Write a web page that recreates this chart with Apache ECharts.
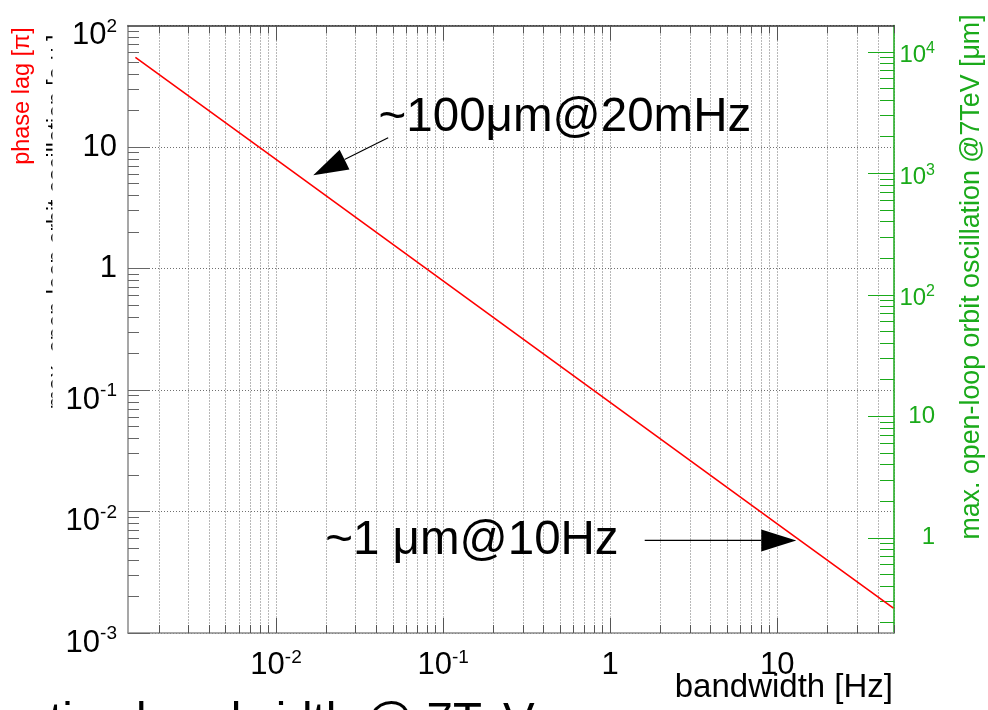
<!DOCTYPE html>
<html><head><meta charset="utf-8">
<script src="https://cdn.jsdelivr.net/npm/echarts@6/dist/echarts.min.js"></script>
<style>html,body{margin:0;padding:0;background:#fff}#c{width:988px;height:710px}</style>
</head><body><div id="c"></div>
<script>
const FONT = '"Liberation Sans", Arial, Helvetica, sans-serif';
// ---- data ----
const bandwidthHz = [0.00144, 0.01, 0.1, 1, 10, 49.6];
const phaseLagPi  = [54.7, 7.9, 0.79, 0.079, 0.0079, 0.0016];
const xRange = [0.0013, 50];
const yLeftRange = [0.001, 100];
const yRightRange = [0.1645, 16450];
const xMajorTicks = [0.01, 0.1, 1, 10];
const yLeftMajorTicks = [0.001, 0.01, 0.1, 1, 10, 100];
const yRightMajorTicks = [1, 10, 100, 1000, 10000];
const annotTexts = ['~100μm@20mHz', '~1 μm@10Hz'];
const annotTextPos = [[0.0411, 17.3], [0.0197, 0.00578]];
const arrowTails = [[0.0469, 11.9], [1.61, 0.00578]];
const arrowTips  = [[0.0167, 5.86], [13.0, 0.00578]];
const xTitle = 'bandwidth [Hz]';
const yLeftTitle = 'phase lag [π]';
const yRightTitle = 'max. open-loop orbit oscillation @7TeV [μm]';
const hiddenTitle = 'max. open-loop orbit oscillation [a.u.]';
const bottomTitle = 'Effective bandwidth @ 7TeV';

const GREEN = '#1aaa1a', RED = '#ff0000', AX = '#8a8a8a';

function minorTicks(r){
  const out=[];
  for(let e=-6;e<=6;e++) for(let m=1;m<=9;m++){
    const v = +(m*Math.pow(10,e)).toPrecision(6);
    if(v>=r[0]*0.9999 && v<=r[1]*1.0001) out.push(v);
  }
  return out;
}
function expOf(v){ return Math.round(Math.log10(v)); }
function fmtExp(v){ const e=expOf(v); if(e===0) return '{p|1}'; if(e===1) return '{p|10}'; return '{b|10}{s|'+e+'}'; }

const xRich = {
  p:{fontSize:31,lineHeight:31,padding:[3,0,0,0],fontFamily:FONT,color:'#000'},
  b:{fontSize:31,lineHeight:31,padding:[3,0,0,0],fontFamily:FONT,color:'#000'},
  s:{fontSize:19,lineHeight:19,verticalAlign:'top',fontFamily:FONT,color:'#000'}
};
const yRich = {
  p:{fontSize:31,lineHeight:31,fontFamily:FONT,color:'#000'},
  b:{fontSize:31,lineHeight:31,padding:[20,0,0,0],fontFamily:FONT,color:'#000'},
  s:{fontSize:19,lineHeight:19,padding:[17,0,15,0],fontFamily:FONT,color:'#000'}
};
const rRich = {
  p:{fontSize:24,lineHeight:24,fontFamily:FONT,color:GREEN},
  b:{fontSize:24,lineHeight:24,padding:[8,0,0,0],fontFamily:FONT,color:GREEN},
  s:{fontSize:16,lineHeight:16,padding:[5,0,11,0],fontFamily:FONT,color:GREEN}
};

const grid = {left:128, top:16, width:766, height:617, containLabel:false};
const noLabel = {show:false};
const dotted = {type:[1,2], color:'#707070', width:1};

const option = {
  animation:false,
  backgroundColor:'#fff',
  grid: grid,
  xAxis:[
    {type:'log', logBase:10, position:'bottom', min:xRange[0], max:xRange[1],
     axisLine:{show:true, lineStyle:{color:AX,width:1.5}},
     axisTick:{show:true, inside:true, length:8, customValues:minorTicks(xRange), lineStyle:{color:'#555'}},
     splitLine:{show:true, lineStyle:dotted},
     axisLabel:{show:true, customValues:xMajorTicks, formatter:fmtExp, rich:xRich, margin:15}},
    {type:'log', logBase:10, position:'bottom', min:xRange[0], max:xRange[1],
     axisLine:{show:false}, splitLine:{show:false}, axisLabel:noLabel,
     axisTick:{show:true, inside:true, length:15, customValues:xMajorTicks, lineStyle:{color:'#555'}}},
    {type:'log', logBase:10, position:'top', min:xRange[0], max:xRange[1],
     axisLine:{show:true, lineStyle:{color:'#333',width:1.5}}, splitLine:{show:false}, axisLabel:noLabel,
     axisTick:{show:true, inside:true, length:8, customValues:minorTicks(xRange), lineStyle:{color:'#555'}}},
    {type:'log', logBase:10, position:'top', min:xRange[0], max:xRange[1],
     axisLine:{show:false}, splitLine:{show:false}, axisLabel:noLabel,
     axisTick:{show:true, inside:true, length:15, customValues:xMajorTicks, lineStyle:{color:'#555'}}}
  ],
  yAxis:[
    {type:'log', logBase:10, position:'left', min:yLeftRange[0], max:yLeftRange[1],
     axisLine:{show:true, lineStyle:{color:AX,width:1.5}},
     axisTick:{show:true, inside:true, length:11, customValues:minorTicks(yLeftRange), lineStyle:{color:'#666'}},
     splitLine:{show:false},
     axisLabel:{show:true, customValues:yLeftMajorTicks, formatter:fmtExp, rich:yRich, margin:11}},
    {type:'log', logBase:10, position:'left', min:yLeftRange[0], max:yLeftRange[1],
     axisLine:{show:false}, axisLabel:noLabel,
     axisTick:{show:true, inside:true, length:22, customValues:yLeftMajorTicks, lineStyle:{color:'#666'}},
     splitLine:{show:true, lineStyle:dotted}},
    {type:'log', logBase:10, position:'right', min:yRightRange[0], max:yRightRange[1],
     axisLine:{show:true, lineStyle:{color:GREEN,width:1.5}},
     axisTick:{show:true, inside:true, length:14, customValues:minorTicks(yRightRange), lineStyle:{color:GREEN}},
     splitLine:{show:false},
     axisLabel:{show:true, customValues:yRightMajorTicks, formatter:fmtExp, rich:rRich, margin:41, align:'right'}},
    {type:'log', logBase:10, position:'right', min:yRightRange[0], max:yRightRange[1],
     axisLine:{show:false}, axisLabel:noLabel, splitLine:{show:false},
     axisTick:{show:true, inside:true, length:26, customValues:yRightMajorTicks, lineStyle:{color:GREEN}}}
  ],
  series:[{
    type:'line', xAxisIndex:0, yAxisIndex:0, showSymbol:false, symbol:'none',
    data: bandwidthHz.map((x,i)=>[x, phaseLagPi[i]]),
    lineStyle:{color:RED, width:1.6}, itemStyle:{color:RED}, z:5
  }]
};

const chart = echarts.init(document.getElementById('c'), null, {renderer:'canvas'});
chart.setOption(option);

function px(p){ return chart.convertToPixel({xAxisIndex:0, yAxisIndex:0}, p); }
const gfx = [];
// mostly covered rotated label on the far left (only glyph tops peek out)
gfx.push({type:'text', x:57.5, y:222, rotation:Math.PI/2, z:-5,
  style:{text:hiddenTitle, fontSize:23, fontFamily:FONT, fill:'#000', align:'center', verticalAlign:'middle'}});
gfx.push({type:'rect', shape:{x:52.5, y:0, width:28, height:470}, style:{fill:'#fff'}, z:-4});
// axis titles
gfx.push({type:'text', x:23, y:96, rotation:Math.PI/2, z:3,
  style:{text:yLeftTitle, fontSize:23.5, fontFamily:FONT, fill:RED, align:'center', verticalAlign:'middle'}});
gfx.push({type:'text', x:972, y:277, rotation:Math.PI/2, z:3,
  style:{text:yRightTitle, fontSize:26.8, fontFamily:FONT, fill:GREEN, align:'center', verticalAlign:'middle'}});
gfx.push({type:'text', x:893, y:688, z:3,
  style:{text:xTitle, fontSize:33, fontFamily:FONT, fill:'#000', align:'right', verticalAlign:'middle'}});
gfx.push({type:'text', x:-58, y:723, z:3,
  style:{text:bottomTitle, fontSize:47.4, fontFamily:FONT, fill:'#000', align:'left', verticalAlign:'middle'}});
// annotations
annotTexts.forEach((t,i)=>{
  const p = px(annotTextPos[i]);
  gfx.push({type:'text', x:p[0], y:p[1], z:10,
    style:{text:t, fontSize:47.5, fontFamily:FONT, fill:'#000', align:'left', verticalAlign:'middle'}});
  const a = px(arrowTails[i]), b = px(arrowTips[i]);
  const dx=b[0]-a[0], dy=b[1]-a[1], L=Math.hypot(dx,dy), ux=dx/L, uy=dy/L;
  const hl=35, hw=11;
  const bx=b[0]-ux*hl, by=b[1]-uy*hl;
  gfx.push({type:'line', z:10, shape:{x1:a[0],y1:a[1],x2:bx,y2:by}, style:{stroke:'#000', lineWidth:1.2}});
  gfx.push({type:'polygon', z:10, shape:{points:[[b[0],b[1]],[bx-uy*hw, by+ux*hw],[bx+uy*hw, by-ux*hw]]}, style:{fill:'#000'}});
});
chart.setOption({graphic:{elements:gfx}});
</script>
</body></html>
